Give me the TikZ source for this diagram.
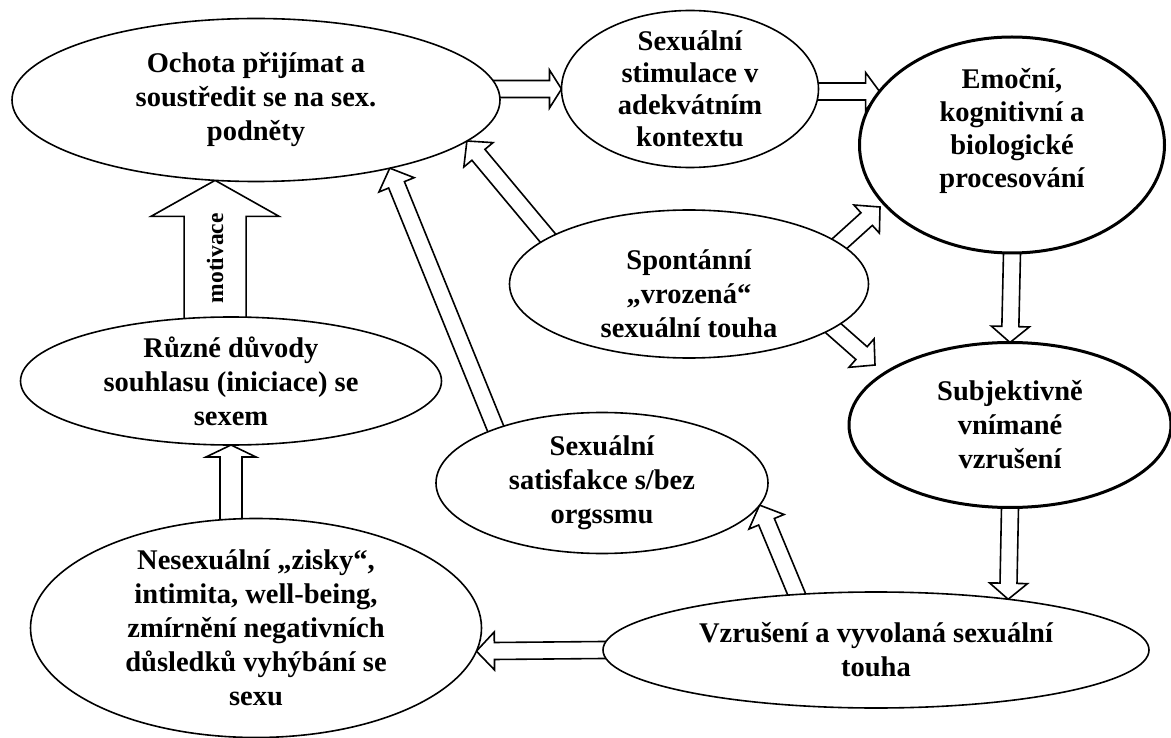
\documentclass[tikz,border=0pt]{standalone}
\usepackage{fontspec}
\setmainfont{Liberation Serif}
\usetikzlibrary{shapes.geometric,calc,backgrounds}

\tikzset{
  zaklad/.style={ellipse, draw=black, line width=1.6pt, fill=white,
                 inner sep=-12pt, outer sep=0pt,
                 font=\fontsize{28.5}{34}\selectfont\bfseries},
  elipsa/.style={zaklad, align=center},
  elipsatucna/.style={zaklad, line width=3pt},
  obrys/.style={draw=black, line width=1.6pt, line join=miter},
  popis/.style={font=\fontsize{23.5}{28}\selectfont\bfseries},
}

% duta sipka: #1 pul drieku, #2 pul hrotu, #3 delka hrotu, #4 odkud, #5 kam
\newcommand{\sipka}[5]{%
  \path ($(#4)!-8pt!(#5)$) coordinate (s0) ($(#5)!#3!(#4)$) coordinate (s1);
  \draw[obrys] ($(s0)!#1!90:(#5)$) -- ($(s1)!#1!-90:(s0)$) -- ($(s1)!#2!-90:(s0)$)
    -- (#5) -- ($(s1)!#2!90:(s0)$) -- ($(s1)!#1!90:(s0)$) -- ($(s0)!#1!-90:(#5)$);
}

\begin{document}
\begin{tikzpicture}[x=1pt, y=-1pt]
  \useasboundingbox (0,0) rectangle (1171,738);

  \node[elipsa, minimum width=488pt, minimum height=163pt] (ochota) at (256,100)
       {Ochota přijímat a\\soustředit se na sex.\\podněty};
  \node[elipsa, minimum width=257pt, minimum height=157pt,
        font=\fontsize{28.5}{32}\selectfont\bfseries] (stim) at (690,89)
       {Sexuální\\stimulace v\\adekvátním\\kontextu};
  \node[elipsatucna, minimum width=305pt, minimum height=216pt,
        font=\fontsize{28.5}{33}\selectfont\bfseries] (emoc) at (1012,145)
       {\begin{tabular}{@{}c@{}}Emoční,\\kognitivní a\\biologické\\
        procesování\rule[-38pt]{0pt}{0pt}\end{tabular}};
  \node[elipsa, minimum width=359pt, minimum height=148pt] (spont) at (689,284)
       {\rule{0pt}{40pt}Spontánní\\„vrozená“\\sexuální touha};
  \node[elipsatucna, align=center, minimum width=322pt, minimum height=165pt] (subj) at (1010,425)
       {Subjektivně\\vnímané\\vzrušení};
  \node[elipsa, minimum width=421pt, minimum height=128pt] (ruzne) at (231,381)
       {Různé důvody\\souhlasu (iniciace) se\\sexem};
  \node[elipsa, minimum width=332pt, minimum height=141pt] (satisf) at (602,483)
       {Sexuální\\satisfakce s/bez\\orgssmu};
  \node[elipsa, minimum width=451pt, minimum height=219pt] (nesex) at (256,628)
       {Nesexuální „zisky“,\\intimita, well-being,\\zmírnění negativních\\důsledků vyhýbání se\\sexu};
  \node[elipsa, minimum width=546pt, minimum height=116pt] (vzrus) at (876,650)
       {Vzrušení a vyvolaná sexuální\\touha};

  \coordinate (m0) at (ruzne.north -| ochota.-117);
  \coordinate (n0) at (ruzne.south |- nesex.north);
  \coordinate (a0) at (ochota.east |- stim.west);
  \coordinate (b0) at (stim.east |- emoc.158);
  \coordinate (k1) at (880,207);
  \coordinate (k2) at (875,365);

  \begin{scope}[on background layer]
    \sipka{31pt}{64pt}{36pt}{m0}{ochota.-117}
    \sipka{11pt}{25pt}{12pt}{n0}{ruzne.south}
    \sipka{8.5pt}{19pt}{12pt}{a0}{stim.west}
    \sipka{8.5pt}{19pt}{14pt}{b0}{emoc.158}
    \sipka{8.5pt}{19pt}{18pt}{spont.162}{ochota.-11}
    \sipka{8.5pt}{19pt}{18pt}{satisf.153}{ochota.-27}
    \sipka{8.5pt}{19pt}{18pt}{spont.15}{k1}
    \sipka{8.5pt}{19pt}{18pt}{spont.-17}{k2}
    \sipka{8.5pt}{19pt}{16pt}{emoc.south}{subj.north}
    \sipka{8.5pt}{19pt}{16pt}{subj.south}{vzrus.21}
    \sipka{8.5pt}{19pt}{18pt}{vzrus.145}{satisf.-8}
    \sipka{8.5pt}{19pt}{18pt}{vzrus.west}{nesex.-6}
  \end{scope}

  \node[popis, rotate=90] (motivace) at ($(m0)!0.43!(ochota.-117)$) {motivace};
\end{tikzpicture}
\end{document}
